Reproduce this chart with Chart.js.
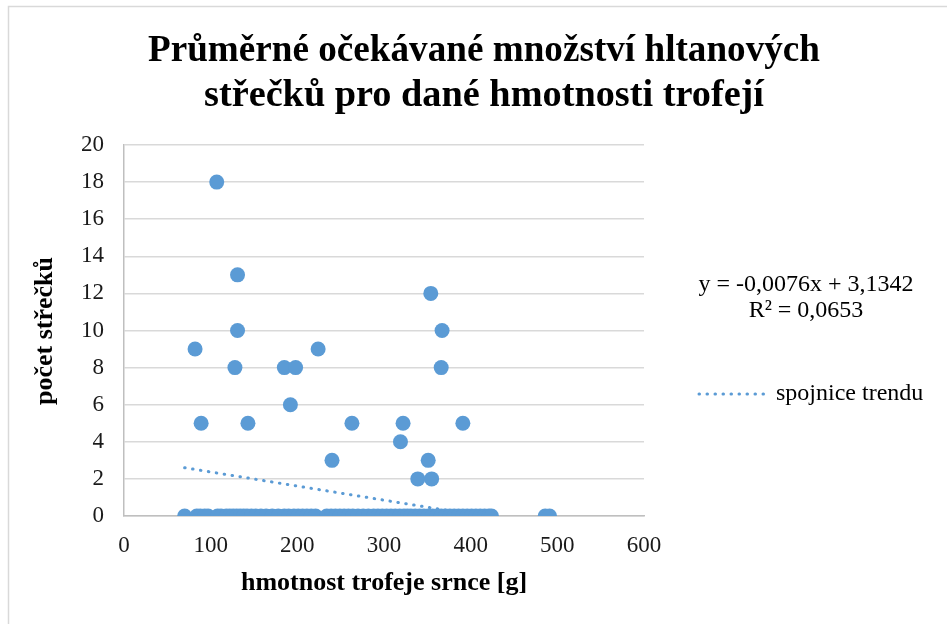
<!DOCTYPE html>
<html>
<head>
<meta charset="utf-8">
<script src="https://cdn.jsdelivr.net/npm/chart.js@4.4.1/dist/chart.umd.min.js"></script>
<style>
html,body{margin:0;padding:0;background:#fff;}
#wrap{width:947px;height:624px;position:relative;}
</style>
</head>
<body>
<div id="wrap"><canvas id="c" width="947" height="624"></canvas></div>
<script>
const titleLines = ['Průměrné očekávané množství hltanových', 'střečků pro dané hmotnosti trofejí'];
const xAxisTitle = 'hmotnost trofeje srnce [g]';
const yAxisTitle = 'počet střečků';
const trendLabel = 'spojnice trendu';
const equationLines = ['y = -0,0076x + 3,1342', 'R² = 0,0653'];
const trendSlope = -0.0076;
const trendIntercept = 3.1342;

// nonzero observations
const massNonZero = [107, 131, 131, 128, 82, 89, 143, 185, 198, 192, 224, 263, 240, 322, 319, 354, 367, 366, 351, 339, 355, 391];
const countNonZero = [18, 13, 10, 8, 9, 5, 5, 8, 8, 6, 9, 5, 3, 5, 4, 12, 10, 8, 3, 2, 2, 5];
// zero observations
const massZero = [70, 84, 88, 93, 97, 108, 112, 118, 122, 126, 130, 134, 138, 142, 147, 152, 158, 164, 171, 178, 185, 190, 196, 201, 206, 211, 216, 221, 234, 239, 244, 249, 254, 259, 264, 270, 276, 282, 288, 293, 298, 303, 308, 313, 318, 323, 327, 331, 336, 341, 346, 351, 356, 361, 366, 371, 376, 381, 386, 391, 396, 401, 406, 411, 416, 421, 424, 486, 491];

const xTicks = [0, 100, 200, 300, 400, 500, 600];
const yTicks = [0, 2, 4, 6, 8, 10, 12, 14, 16, 18, 20];

const points = massNonZero.map((m, i) => ({x: m, y: countNonZero[i]}))
  .concat(massZero.map(m => ({x: m, y: 0})));

const allX = massNonZero.concat(massZero);
const minX = Math.min(...allX);
const zeroCross = -trendIntercept / trendSlope;
const trendPts = [minX, zeroCross].map(x => ({x: x, y: trendIntercept + trendSlope * x}));

const SERIF = '"Liberation Serif", "Times New Roman", serif';
const BLUE = '#5B9BD5';

function fitText(ctx, text, cx, cy, targetW) {
  const w = ctx.measureText(text).width;
  ctx.save();
  ctx.translate(cx, cy);
  ctx.scale(targetW / w, 1);
  ctx.fillText(text, 0, 0);
  ctx.restore();
}

const decor = {
  id: 'decor',
  beforeDraw(chart) {
    const ctx = chart.ctx;
    ctx.save();
    ctx.fillStyle = '#fff';
    ctx.fillRect(0, 0, chart.width, chart.height);
    ctx.strokeStyle = '#D9D9D9';
    ctx.lineWidth = 1.5;
    ctx.strokeRect(8.5, 6.5, 1000, 1000);
    ctx.restore();
  },
  afterDraw(chart) {
    const ctx = chart.ctx;
    ctx.save();
    ctx.fillStyle = '#000';
    ctx.textAlign = 'center';
    ctx.textBaseline = 'middle';
    ctx.font = 'bold 38px ' + SERIF;
    fitText(ctx, titleLines[0], 484, 51, 672);
    fitText(ctx, titleLines[1], 484, 96, 560);
    // y axis title
    ctx.font = 'bold 26px ' + SERIF;
    ctx.save();
    ctx.translate(45, 331);
    ctx.rotate(-Math.PI / 2);
    ctx.fillText(yAxisTitle, 0, 0);
    ctx.restore();
    ctx.font = '24px ' + SERIF;
    ctx.fillText(equationLines[0], 806, 285);
    ctx.fillText(equationLines[1], 806, 311);
    // legend
    ctx.strokeStyle = BLUE;
    ctx.lineWidth = 3;
    ctx.lineCap = 'round';
    ctx.setLineDash([0.5, 7.5]);
    ctx.beginPath();
    ctx.moveTo(699, 394);
    ctx.lineTo(769, 394);
    ctx.stroke();
    ctx.setLineDash([]);
    ctx.textAlign = 'left';
    ctx.fillStyle = '#000';
    ctx.fillText(trendLabel, 776, 394);
    ctx.restore();
  }
};

new Chart(document.getElementById('c'), {
  type: 'scatter',
  data: {
    datasets: [
      {
        type: 'line',
        label: trendLabel,
        data: trendPts,
        borderColor: BLUE,
        borderWidth: 3,
        borderDash: [0.5, 7.5],
        borderCapStyle: 'round',
        pointRadius: 0,
        fill: false,
        order: 2
      },
      {
        label: 'data',
        data: points,
        backgroundColor: BLUE,
        borderColor: BLUE,
        pointRadius: 7.5,
        pointHoverRadius: 7.5,
        borderWidth: 0,
        order: 1
      }
    ]
  },
  options: {
    responsive: false,
    animation: false,
    events: [],
    layout: {padding: {left: 20, right: 303, top: 145, bottom: 24}},
    plugins: {legend: {display: false}, title: {display: false}, tooltip: {enabled: false}},
    scales: {
      x: {
        type: 'linear',
        min: 0, max: 600,
        afterBuildTicks(s) { s.ticks = xTicks.map(v => ({value: v})); },
        afterFit(s) { s.height = 84; },
        grid: {display: false, drawTicks: false},
        border: {display: true, color: '#BFBFBF', width: 1.5},
        ticks: {color: '#1a1a1a', font: {family: SERIF, size: 23}, padding: 16, maxRotation: 0},
        title: {display: true, text: xAxisTitle, color: '#000', font: {family: SERIF, size: 26, weight: 'bold'}, padding: {top: 0, bottom: 1}}
      },
      y: {
        type: 'linear',
        min: 0, max: 20,
        afterBuildTicks(s) { s.ticks = yTicks.map(v => ({value: v})); },
        afterFit(s) { s.width = 104; },
        grid: {color: '#D9D9D9', lineWidth: 1.5, drawTicks: false},
        border: {display: true, color: '#BFBFBF', width: 1.5},
        ticks: {color: '#1a1a1a', font: {family: SERIF, size: 23}, padding: 20},
        title: {display: false}
      }
    }
  },
  plugins: [decor]
});
</script>
</body>
</html>
